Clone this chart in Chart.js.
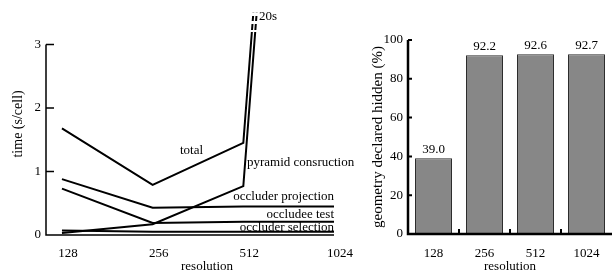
<!DOCTYPE html>
<html>
<head>
<meta charset="utf-8">
<script src="https://cdn.jsdelivr.net/npm/chart.js@4/dist/chart.umd.min.js"></script>
<style>
  html, body { margin: 0; padding: 0; background: #fff; }
  body { width: 613px; height: 274px; position: relative; overflow: hidden; }
  #timeWrap { position: absolute; left: 0; top: 0; width: 370px; height: 274px; }
  #hiddenWrap { position: absolute; left: 345px; top: 0; width: 268px; height: 274px; }
</style>
</head>
<body>
<div id="timeWrap"><canvas id="timeChart"></canvas></div>
<div id="hiddenWrap"><canvas id="hiddenChart"></canvas></div>
<script>
// Data
const resLabels = ['128', '256', '512', '1024'];
const xIdx = [0, 1, 2, 3];
const totalTime = [1.68, 0.79, 1.45, 20];
const pyramidTime = [0.03, 0.17, 0.77, 19.3];
const projTime = [0.88, 0.43, 0.45, 0.45];
const testTime = [0.73, 0.19, 0.21, 0.21];
const selTime = [0.07, 0.05, 0.05, 0.05];
const timeTicks = [0, 1, 2, 3];

const hiddenPct = [39.0, 92.2, 92.6, 92.7];
const pctTicks = [0, 20, 40, 60, 80, 100];

const FONT = '"Liberation Serif", "DejaVu Serif", serif';
Chart.defaults.font.family = FONT;
Chart.defaults.font.size = 13;
Chart.defaults.color = '#000';

function lineSet(vals) {
  return {
    data: xIdx.map((x, i) => ({ x: x, y: vals[i] })),
    borderColor: '#000',
    borderWidth: 2,
    pointRadius: 0,
    tension: 0,
    fill: false
  };
}

// axis lines, inward ticks, the break marks and the curve labels
const timeDecor = {
  id: 'timeDecor',
  afterDatasetsDraw(chart) {
    const ctx = chart.ctx;
    const a = chart.chartArea;
    const y = chart.scales.y;
    ctx.save();
    // break in the two rising curves
    ctx.fillStyle = '#fff';
    [[13, 3], [21, 3], [30, 2]].forEach(g => ctx.fillRect(243, g[0], 16, g[1]));
    ctx.strokeStyle = '#000';
    ctx.lineWidth = 1.5;
    ctx.beginPath();
    ctx.moveTo(a.left, y.getPixelForValue(3));
    ctx.lineTo(a.left, a.bottom);
    ctx.lineTo(a.right, a.bottom);
    timeTicks.forEach(v => {
      const py = y.getPixelForValue(v);
      ctx.moveTo(a.left, py);
      ctx.lineTo(a.left + 8, py);
    });
    ctx.stroke();

    ctx.fillStyle = '#000';
    ctx.font = '13px ' + FONT;
    ctx.textBaseline = 'middle';
    ctx.textAlign = 'left';
    ctx.fillText('20s', 259, 17);
    ctx.fillText('total', 180, 151);
    ctx.fillText('pyramid consruction', 247, 163);
    ctx.textAlign = 'right';
    ctx.fillText('occluder projection', 334, 197);
    ctx.fillText('occludee test', 334, 215);
    ctx.fillText('occluder selection', 334, 228);
    // axis title sits a bit right of the axis centre in the original
    ctx.textAlign = 'center';
    ctx.fillText('resolution', 207, 267);
    ctx.restore();
  }
};

new Chart(document.getElementById('timeChart'), {
  type: 'line',
  data: {
    datasets: [totalTime, pyramidTime, projTime, testTime, selTime].map(lineSet)
  },
  options: {
    responsive: true,
    maintainAspectRatio: false,
    animation: false,
    layout: { padding: { left: 0, top: 8, right: 36, bottom: 0 } },
    plugins: { legend: { display: false }, tooltip: { enabled: false } },
    scales: {
      x: {
        type: 'linear',
        min: -0.176,
        max: 3,
        afterBuildTicks: s => { s.ticks = xIdx.map(v => ({ value: v })); },
        afterFit: s => { s.height = 39; },
        grid: { display: false, drawTicks: false },
        border: { display: false },
        ticks: { padding: 11, labelOffset: 6, callback: v => resLabels[v] }
      },
      y: {
        min: 0,
        max: 3.5,
        afterBuildTicks: s => { s.ticks = timeTicks.map(v => ({ value: v })); },
        afterFit: s => { s.width = 46; },
        grid: { display: false, drawTicks: false },
        border: { display: false },
        ticks: { padding: 5 },
        title: { display: true, text: 'time (s/cell)', font: { size: 14 }, padding: { top: 10, bottom: 0 } }
      }
    }
  },
  plugins: [timeDecor]
});

// axis lines, ticks and value labels for the bar panel
const barDecor = {
  id: 'barDecor',
  afterDatasetsDraw(chart) {
    const ctx = chart.ctx;
    const a = chart.chartArea;
    const x = chart.scales.x;
    const y = chart.scales.y;
    ctx.save();
    ctx.strokeStyle = '#000';
    ctx.lineWidth = 2.5;
    ctx.beginPath();
    ctx.moveTo(a.left, y.getPixelForValue(100));
    ctx.lineTo(a.left, a.bottom);
    ctx.lineTo(a.right, a.bottom);
    ctx.stroke();
    ctx.lineWidth = 2;
    ctx.beginPath();
    pctTicks.forEach(v => {
      const py = y.getPixelForValue(v);
      ctx.moveTo(a.left, py);
      ctx.lineTo(a.left + 4, py);
    });
    for (let i = 0; i < resLabels.length - 1; i++) {
      const px = (x.getPixelForValue(i) + x.getPixelForValue(i + 1)) / 2;
      ctx.moveTo(px, a.bottom);
      ctx.lineTo(px, a.bottom - 5);
    }
    ctx.stroke();

    ctx.fillStyle = '#000';
    ctx.font = '13px ' + FONT;
    ctx.textAlign = 'center';
    ctx.textBaseline = 'middle';
    chart.getDatasetMeta(0).data.forEach((bar, i) => {
      ctx.fillText(hiddenPct[i].toFixed(1), bar.x, bar.y - 9);
    });
    ctx.restore();
  }
};

new Chart(document.getElementById('hiddenChart'), {
  type: 'bar',
  data: {
    labels: resLabels,
    datasets: [{
      data: hiddenPct,
      backgroundColor: '#878787',
      borderColor: '#2a2a2a',
      borderWidth: 1,
      categoryPercentage: 1,
      barPercentage: 0.725
    }]
  },
  options: {
    responsive: true,
    maintainAspectRatio: false,
    animation: false,
    layout: { padding: { left: 0, top: 40, right: 1, bottom: 0 } },
    plugins: { legend: { display: false }, tooltip: { enabled: false } },
    scales: {
      x: {
        afterFit: s => { s.height = 40; },
        grid: { display: false, drawTicks: false },
        border: { display: false },
        ticks: { padding: 12 },
        title: { display: true, text: 'resolution', padding: { top: 0, bottom: 0 } }
      },
      y: {
        min: 0,
        max: 100,
        afterBuildTicks: s => { s.ticks = pctTicks.map(v => ({ value: v })); },
        afterFit: s => { s.width = 63; },
        grid: { display: false, drawTicks: false },
        border: { display: false },
        ticks: { padding: 5 },
        title: { display: true, text: 'geometry declared hidden (%)', font: { size: 15 }, padding: { top: 24, bottom: 0 } }
      }
    }
  },
  plugins: [barDecor]
});
</script>
</body>
</html>
